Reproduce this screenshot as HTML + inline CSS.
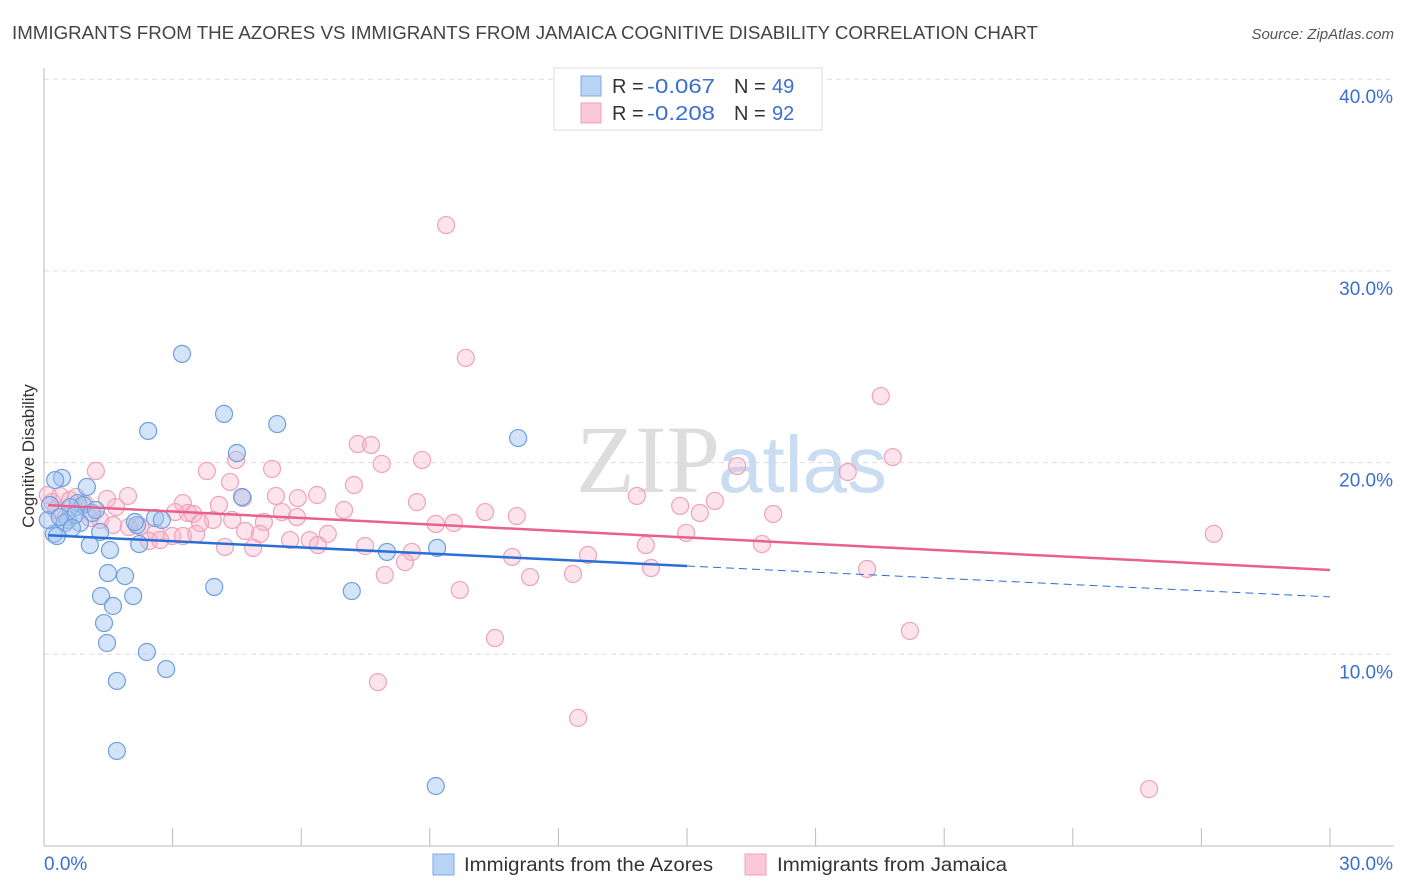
<!DOCTYPE html>
<html><head><meta charset="utf-8"><style>
body{margin:0;background:#fff;font-family:"Liberation Sans",sans-serif;}
svg{display:block}
</style></head><body>
<svg id="chart" width="1406" height="892">
<text x="12" y="39" font-size="18" fill="#444" textLength="1026" lengthAdjust="spacingAndGlyphs">IMMIGRANTS FROM THE AZORES VS IMMIGRANTS FROM JAMAICA COGNITIVE DISABILITY CORRELATION CHART</text>
<text x="1394" y="39" font-size="15" fill="#555" font-style="italic" text-anchor="end">Source: ZipAtlas.com</text>
<text x="34" y="456" font-size="17" fill="#333" text-anchor="middle" transform="rotate(-90 34 456)">Cognitive Disability</text>
<text x="720" y="492" font-size="96" fill="#ddd" text-anchor="end" font-family="Liberation Serif,serif">ZIP</text>
<text x="718" y="492" font-size="80" fill="#c9dcf2">atlas</text>
<g id="grid"></g><g id="marks"></g>
<g>
<rect x="554" y="68" width="268" height="62" fill="#fff" stroke="#ddd"/>
<rect x="581" y="76" width="20" height="20" fill="#b8d4f5" stroke="#7aaae6"/>
<rect x="581" y="103" width="20" height="20" fill="#fac8d8" stroke="#f0a0ba"/>
<text x="612" y="93" font-size="20" fill="#333">R = <tspan fill="#3a6fd0" x="647" textLength="68" lengthAdjust="spacingAndGlyphs">-0.067</tspan><tspan x="734">N = </tspan><tspan fill="#3a6fd0" x="772">49</tspan></text>
<text x="612" y="120" font-size="20" fill="#333">R = <tspan fill="#3a6fd0" x="647" textLength="68" lengthAdjust="spacingAndGlyphs">-0.208</tspan><tspan x="734">N = </tspan><tspan fill="#3a6fd0" x="772">92</tspan></text>
</g>
<g>
<rect x="433" y="854" width="21" height="21" fill="#b8d4f5" stroke="#7aaae6"/>
<text x="464" y="871" font-size="19" fill="#333" textLength="249" lengthAdjust="spacingAndGlyphs">Immigrants from the Azores</text>
<rect x="745" y="854" width="21" height="21" fill="#fac8d8" stroke="#f0a0ba"/>
<text x="777" y="871" font-size="19" fill="#333" textLength="230" lengthAdjust="spacingAndGlyphs">Immigrants from Jamaica</text>
</g>
</svg>
<script>
const yTicks=[10,20,30,40];
const yTickLabels=["10.0%","20.0%","30.0%","40.0%"];
const xTickLabels=["0.0%","30.0%"];
const azoresX=[3.22,4.20,2.43,5.44,4.50,11.06,0.42,0.26,1.00,4.62,0.79,0.91,0.61,1.12,2.59,0.56,0.49,0.84,1.31,0.23,0.09,2.17,1.07,1.54,2.22,8.00,9.17,1.49,1.89,1.33,2.08,3.97,1.61,7.18,1.40,1.47,2.40,2.85,1.70,1.70,9.14,0.72,0.14,0.37,1.21,0.65,0.30,2.75,2.12];
const azoresY=[25.67,22.54,21.65,22.01,20.50,21.28,19.20,19.09,18.73,18.21,17.89,17.79,17.68,17.37,17.11,17.01,16.85,16.85,16.38,16.28,17.01,16.74,15.70,15.44,15.75,15.34,15.55,14.24,14.08,13.04,13.04,13.51,12.52,13.30,11.63,10.59,10.12,9.23,8.61,4.96,3.13,17.27,17.79,17.16,17.53,16.59,16.17,17.01,16.90];
const jamaicaX=[9.38,9.84,19.52,7.32,7.63,19.80,1.21,3.80,4.48,5.32,7.88,8.82,16.17,18.75,4.34,7.23,1.96,1.47,3.24,4.64,5.41,5.92,6.37,8.70,13.83,15.65,0.37,0.19,0.61,0.96,1.68,3.36,4.08,3.06,3.48,5.55,5.90,7.00,10.29,11.03,14.84,15.30,17.01,0.51,1.31,3.94,1.98,5.13,9.14,9.56,2.61,2.99,3.24,4.69,5.04,5.74,6.20,6.62,2.45,3.55,4.22,4.88,6.39,7.49,8.58,12.69,14.04,14.98,16.75,8.42,10.92,11.34,12.34,14.16,19.20,7.95,9.70,10.52,7.79,12.46,20.20,27.29,25.78,0.09,0.28,0.75,1.07,1.61,2.24,2.71,3.64,4.39];
const jamaicaY=[32.39,25.46,23.47,20.97,20.92,20.29,19.56,19.56,20.14,19.67,19.93,20.14,19.82,19.51,18.99,18.83,18.26,18.10,17.89,18.15,18.26,18.15,18.31,17.94,18.26,18.00,18.26,17.94,18.05,17.84,17.68,17.37,17.79,17.42,17.32,17.42,17.16,17.53,17.42,17.21,17.74,17.37,17.32,17.16,17.01,17.01,16.64,16.90,16.80,16.85,16.33,16.17,16.17,16.43,16.28,15.96,15.96,16.28,15.91,16.28,15.60,15.55,15.70,15.65,15.34,15.18,15.70,16.33,15.75,14.81,15.08,14.03,14.19,14.50,14.45,14.14,13.35,10.85,8.55,6.68,11.22,16.28,2.97,18.31,17.53,18.21,17.11,16.74,16.69,15.96,16.85,17.01];
const azoresTrend=[16.22,-0.1075];
const jamaicaTrend=[17.79,-0.113];
const X0=44,X1=1330,Y0=846,PX=191.7;
const sx=v=>X0+(v/30)*(X1-X0);
const sy=v=>Y0-v/10*PX;
const NS="http://www.w3.org/2000/svg";
function mk(t,a,p){const e=document.createElementNS(NS,t);for(const k in a)e.setAttribute(k,a[k]);p.appendChild(e);return e;}
const grid=document.getElementById('grid'),marks=document.getElementById('marks');
yTicks.forEach((t,i)=>{
 const g=mk('line',{x1:X0,x2:1394,y1:sy(t),y2:sy(t),stroke:'#ddd','stroke-dasharray':'5,4'},grid);
 
 
 const l=mk('text',{x:1393,y:sy(t)+24,'font-size':19,fill:'#3a6fd0','text-anchor':'end'},grid);
 l.textContent=yTickLabels[i];
 
 
});
const ya=mk('line',{x1:X0,x2:X0,y1:68,y2:Y0,stroke:'#bbb'},grid);


const xa=mk('line',{x1:X0,x2:1394,y1:Y0,y2:Y0,stroke:'#bbb'},grid);


for(let i=0;i<=10;i++){const t=mk('line',{x1:sx(i*3),x2:sx(i*3),y1:828,y2:Y0,stroke:'#bbb'},grid);
 
 }
const xl0=mk('text',{x:44,y:870,'font-size':19,fill:'#3a6fd0'},grid);xl0.textContent=xTickLabels[0];


const xl1=mk('text',{x:1393,y:870,'font-size':19,fill:'#3a6fd0','text-anchor':'end'},grid);xl1.textContent=xTickLabels[1];


jamaicaX.forEach((x,i)=>{const c=mk('circle',{cx:sx(x),cy:sy(jamaicaY[i]),r:8.5,fill:'rgba(248,175,198,0.35)',stroke:'#eea3bb','stroke-width':1.2},marks);
 
 });
azoresX.forEach((x,i)=>{const c=mk('circle',{cx:sx(x),cy:sy(azoresY[i]),r:8.5,fill:'rgba(160,196,240,0.45)',stroke:'#6f9fe0','stroke-width':1.2},marks);
 
 });
const f=(t,x)=>t[0]+t[1]*x;
const tj=mk('line',{x1:sx(0.1),y1:sy(f(jamaicaTrend,0.1)),x2:sx(30),y2:sy(f(jamaicaTrend,30)),stroke:'#e8608e','stroke-width':2.5},marks);


const ta=mk('line',{x1:sx(0.1),y1:sy(f(azoresTrend,0.1)),x2:sx(15),y2:sy(f(azoresTrend,15)),stroke:'#2b6fd6','stroke-width':2.5},marks);


const td=mk('line',{x1:sx(15),y1:sy(f(azoresTrend,15)),x2:sx(30),y2:sy(f(azoresTrend,30)),stroke:'#2b6fd6','stroke-width':1,'stroke-dasharray':'8,5'},marks);


</script>
</body></html>
